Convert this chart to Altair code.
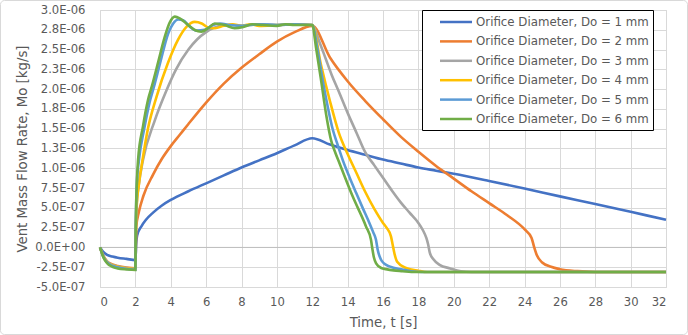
import altair as alt
import pandas as pd

# ---- data (time in s, vent mass flow rate in 1e-6 kg/s) ----
series_names = [
    "Orifice Diameter, Do = 1 mm",
    "Orifice Diameter, Do = 2 mm",
    "Orifice Diameter, Do = 3 mm",
    "Orifice Diameter, Do = 4 mm",
    "Orifice Diameter, Do = 5 mm",
    "Orifice Diameter, Do = 6 mm",
]
series_colors = ["#4472C4", "#ED7D31", "#A5A5A5", "#FFC000", "#5B9BD5", "#70AD47"]

t1 = [0, 0.2, 0.4, 0.7, 1.0, 1.5, 2.0, 2.05, 2.1, 2.35, 2.6, 3.0, 3.5, 4.0, 5.0, 6.0, 7.0,
      8.0, 9.0, 10.0, 11.0, 12.0, 13, 14, 15, 16, 17, 18, 19, 20, 22, 24, 26, 28, 30, 32]
m1 = [0, -0.06, -0.095, -0.115, -0.13, -0.145, -0.16, 0.05, 0.15, 0.27, 0.35, 0.44, 0.53,
      0.60, 0.71, 0.81, 0.91, 1.01, 1.10, 1.19, 1.29, 1.38, 1.30, 1.23, 1.17, 1.11, 1.06, 1.01,
      0.97, 0.93, 0.84, 0.745, 0.645, 0.55, 0.45, 0.35]

t2 = [0, 0.2, 0.4, 0.7, 1.0, 1.5, 2.0, 2.03, 2.05, 2.2, 2.45, 3.0, 3.5, 4.0, 4.5, 5.0, 6.0, 7.0,
      8.0, 9.0, 10.0, 11.0, 12.0, 13, 14, 15, 16, 17, 18, 19, 20, 21, 22, 23, 24, 24.4, 24.55,
      24.7, 25, 25.5, 26, 27, 28, 32]
m2 = [0, -0.11, -0.175, -0.215, -0.235, -0.255, -0.265, 0.05, 0.26, 0.45, 0.65, 0.92, 1.12,
      1.28, 1.42, 1.56, 1.83, 2.07, 2.27, 2.44, 2.60, 2.72, 2.80, 2.40, 2.10, 1.85, 1.62, 1.40,
      1.21, 1.03, 0.87, 0.71, 0.56, 0.41, 0.23, 0.12, 0.0, -0.1, -0.19, -0.245, -0.275, -0.30,
      -0.31, -0.31]

t3 = [0, 0.2, 0.4, 0.7, 1.0, 1.5, 2.0, 2.02, 2.05, 2.2, 2.43, 3.09, 3.75, 4.3, 5.0, 5.5,
      6.0, 6.5, 7.0, 7.5, 8, 9, 10, 11, 12, 12.4, 12.75, 13.1, 13.5, 14, 14.5, 15, 15.5, 16,
      16.5, 17, 17.5, 18, 18.25, 18.45, 18.55, 18.65, 18.85, 19.2, 19.8, 20.4, 21, 32]
m3 = [0, -0.115, -0.18, -0.22, -0.24, -0.26, -0.27, 0.2, 0.475, 0.8, 1.106, 1.6, 1.98, 2.25,
      2.5, 2.63, 2.72, 2.78, 2.81, 2.81, 2.80, 2.82, 2.81, 2.82, 2.81, 2.60, 2.39, 2.18,
      1.97, 1.70, 1.45, 1.20, 1.04, 0.88, 0.72, 0.57, 0.44, 0.31, 0.22, 0.12, 0.04, -0.07, -0.15,
      -0.22, -0.265, -0.30, -0.31, -0.31]

t4 = [0, 0.2, 0.4, 0.7, 1.0, 1.5, 2.0, 2.03, 2.07, 2.2, 2.4, 2.71, 3.19, 3.84, 4.4, 4.9, 5.35,
      5.75, 6.1, 6.5, 7.0, 7.5, 8, 8.5, 9, 10, 11, 12, 12.5, 13, 13.5, 14, 14.5, 15, 15.5, 16,
      16.2, 16.45, 16.55, 16.65, 16.8, 17.3, 18, 18.5, 32]
m4 = [0, -0.12, -0.185, -0.225, -0.245, -0.265, -0.275, 0.2, 0.5, 0.8, 1.1, 1.5, 1.9, 2.33,
      2.62, 2.79, 2.85, 2.83, 2.78, 2.77, 2.80, 2.82, 2.80, 2.82, 2.80, 2.81, 2.82, 2.81,
      2.30, 1.85, 1.45, 1.18, 0.94, 0.70, 0.49, 0.31, 0.25, 0.14, 0.03, -0.08, -0.18, -0.26,
      -0.295, -0.31, -0.31]

t5 = [0, 0.2, 0.4, 0.7, 1.0, 1.5, 2.0, 2.02, 2.04, 2.08, 2.2, 2.5, 2.8, 3.05, 3.4, 3.85,
      4.14, 4.42, 4.7, 5.08, 5.45, 5.92, 6.39, 6.8, 7.3, 8, 9, 10, 11, 12, 12.3, 12.6, 12.9,
      13.16, 13.4, 13.73, 14.1, 14.48, 14.85, 15.23, 15.45, 15.6, 15.7, 15.89, 16.1, 16.36,
      17.1, 17.6, 18.2, 32]
m5 = [0, -0.125, -0.19, -0.232, -0.252, -0.27, -0.28, 0.2, 0.5, 0.8, 1.1, 1.5, 1.83, 2.03,
      2.33, 2.70, 2.83, 2.88, 2.87, 2.79, 2.74, 2.75, 2.81, 2.83, 2.81, 2.80, 2.82, 2.81,
      2.82, 2.81, 2.50, 2.10, 1.75, 1.49, 1.32, 1.10, 0.89, 0.69, 0.50, 0.31, 0.19, 0.10, -0.03,
      -0.156, -0.21, -0.24, -0.28, -0.30, -0.31, -0.31]

t6 = [0, 0.2, 0.4, 0.7, 1.0, 1.5, 2.0, 2.02, 2.04, 2.08, 2.15, 2.43, 2.71, 2.95, 3.3, 3.66,
      3.94, 4.23, 4.51, 4.98, 5.36, 5.73, 6.11, 6.49, 7.05, 7.61, 8.1, 8.6, 9.2, 10, 10.5, 11,
      12, 12.22, 12.51, 12.79, 13.07, 13.3, 13.54, 14.29, 15.04, 15.32, 15.4, 15.48, 15.61,
      15.9, 16.17, 16.6, 17.11, 17.6, 32]
m6 = [0, -0.13, -0.2, -0.245, -0.265, -0.278, -0.285, 0.2, 0.5, 0.8, 1.1, 1.53, 1.86, 2.05,
      2.35, 2.66, 2.84, 2.916, 2.895, 2.81, 2.747, 2.726, 2.77, 2.83, 2.81, 2.77, 2.785, 2.82,
      2.81, 2.80, 2.82, 2.81, 2.81, 2.516, 2.095, 1.674, 1.35, 1.20, 1.064, 0.643, 0.265, 0.096,
      -0.02, -0.12, -0.2, -0.26, -0.274, -0.29, -0.30, -0.31, -0.31]

y_tick_labels = ["-5.0E-07", "-2.5E-07", "0.0E+00", "2.5E-07", "5.0E-07", "7.5E-07",
                 "1.0E-06", "1.3E-06", "1.5E-06", "1.8E-06", "2.0E-06", "2.3E-06",
                 "2.5E-06", "2.8E-06", "3.0E-06"]
x_ticks = list(range(0, 33, 2))

# ---- table ----
rows = []
for name, ts, ms in zip(series_names, [t1, t2, t3, t4, t5, t6], [m1, m2, m3, m4, m5, m6]):
    for t, m in zip(ts, ms):
        rows.append({"series": name, "t": t, "Mo": m * 1e-6})
df = pd.DataFrame(rows)

FONT = "DejaVu Sans"
TXT = "#595959"
GRID = "#D9D9D9"
FS = 11.6

y_values = [round(-5e-7 + i * 2.5e-7, 12) for i in range(15)]
label_expr = "[" + ",".join("'%s'" % s for s in y_tick_labels) + "][round(datum.value/2.5e-7)+2]"
y_scale = alt.Scale(domain=[-5e-7, 3e-6], nice=False, zero=False)

x_axis = alt.Axis(values=x_ticks, format="d", grid=True, gridColor=GRID,
                  domain=False, ticks=False, labelPadding=9, labelFont=FONT,
                  labelFontSize=FS, labelColor=TXT, labelOverlap=False,
                  title="Time, t [s]",
                  titleFont=FONT, titleFontSize=13.3, titleFontWeight="normal",
                  titleColor=TXT, titleX=283, titleY=35, titleBaseline="middle",
                  titleAlign="center")
y_axis = alt.Axis(values=y_values, labelExpr=label_expr, grid=True, gridColor=GRID,
                  domain=False, ticks=False, labelPadding=15, labelFont=FONT,
                  labelFontSize=FS, labelColor=TXT, labelOverlap=False,
                  labelBound=False,
                  title="Vent Mass Flow Rate, Mo [kg/s]", titleFont=FONT,
                  titleFontSize=13.3, titleFontWeight="normal", titleColor=TXT,
                  titleX=-78, titleY=138.5, titleAngle=270, titleAlign="center",
                  titleBaseline="middle")

border = alt.Chart(pd.DataFrame({"a": [0]})).mark_rect(
    fillOpacity=0, stroke="#D9D9D9", strokeWidth=1, cornerRadius=4
).encode(x=alt.value(-99.5), x2=alt.value(587.5), y=alt.value(-9.5), y2=alt.value(324.5))

zero = alt.Chart(pd.DataFrame({"Mo": [0.0]})).mark_rule(color="#BFBFBF", strokeWidth=1).encode(
    y=alt.Y("Mo:Q", scale=y_scale, axis=y_axis)
)

pad_spaces = "\u00a0" * 4

lines = alt.Chart(df).mark_line(strokeWidth=2.6, interpolate="monotone").encode(
    x=alt.X("t:Q", scale=alt.Scale(domain=[0, 32], nice=False), axis=x_axis),
    y=alt.Y("Mo:Q", scale=y_scale, axis=y_axis),
    color=alt.Color("series:N", scale=alt.Scale(domain=series_names, range=series_colors),
                    legend=alt.Legend(orient="none", legendX=322, legendY=0, title=None,
                                      symbolType="M-2.46,0L2.46,0", symbolSize=169,
                                      symbolStrokeWidth=2.5, labelFont=FONT,
                                      labelFontSize=11.8, labelColor=TXT, labelLimit=400,
                                      labelExpr="datum.label + '" + pad_spaces + "'",
                                      strokeColor="black", fillColor="white", padding=4,
                                      rowPadding=4.4, labelOffset=12, symbolOffset=22)),
    order=alt.Order("t:Q"),
)

chart = alt.layer(border, zero, lines).properties(
    width=566, height=277,
    padding={"left": 100, "top": 10, "right": 22, "bottom": 48},
    autosize=alt.AutoSizeParams(type="none"),
).configure_view(stroke=GRID)

chart.save("out.html", embed_options={"renderer": "svg", "actions": False})
